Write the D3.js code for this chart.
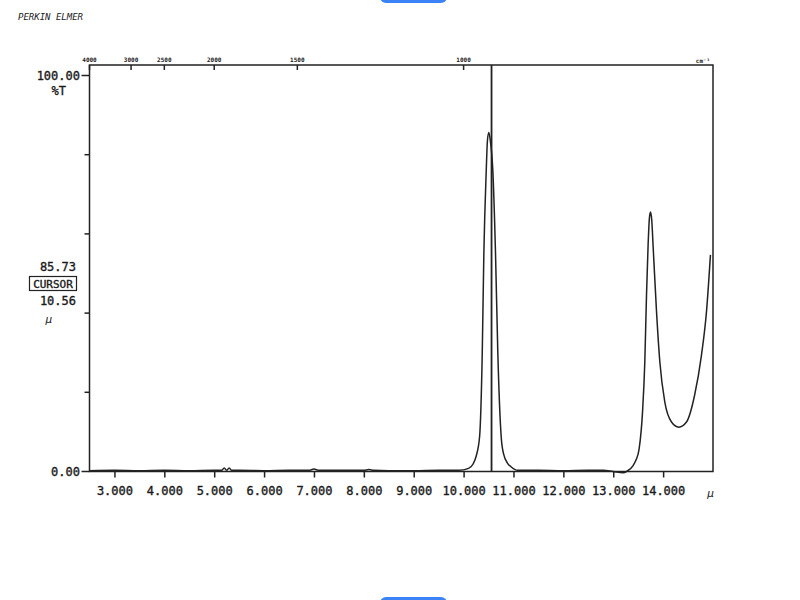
<!DOCTYPE html>
<html>
<head>
<meta charset="utf-8">
<script src="https://cdn.jsdelivr.net/npm/d3@7"></script>
<style>
  body { margin: 0; background: #fff; }
  svg { display: block; }
  text { font-family: "DejaVu Sans Mono", monospace; fill: #1a1a1a; }
  .lbl { stroke: #1a1a1a; stroke-width: 0.35px; }
</style>
</head>
<body>
<div id="chart"></div>
<script>
// wavelength (micron) and transmittance (%T)
const microns = [
  2.5, 3.0, 3.5, 4.0, 4.5, 5.0, 5.15, 5.2, 5.25, 5.3, 5.35, 5.5, 6.0, 6.5, 6.9, 7.0, 7.1,
  7.5, 8.0, 8.1, 8.2, 8.5, 9.0, 9.5, 9.9, 10.1, 10.19, 10.25, 10.32, 10.374, 10.406, 10.454,
  10.478, 10.506, 10.535, 10.586, 10.64, 10.686, 10.754, 10.8, 10.886, 10.95, 11.08, 11.5,
  12.0, 12.5, 12.8, 13.0, 13.2, 13.267, 13.399, 13.46, 13.519, 13.587, 13.633, 13.667,
  13.699, 13.725, 13.747, 13.772, 13.799, 13.868, 13.934, 14.034, 14.168, 14.314, 14.468,
  14.63, 14.769, 14.869, 14.949
];
const transmittance = [
  0.2, 0.3, 0.2, 0.3, 0.2, 0.3, 0.3, 0.9, 0.3, 0.9, 0.3, 0.3, 0.2, 0.3, 0.3, 0.6, 0.3,
  0.3, 0.3, 0.5, 0.3, 0.2, 0.2, 0.3, 0.3, 0.8, 1.9, 3.8, 8.7, 30, 55, 76,
  83.6, 85.6, 83.6, 76, 55, 30, 8.7, 4.5, 2, 1.2, 0.3, 0.3,
  0.2, 0.3, 0.3, 0.0, -0.3, 0.0, 1.5, 3.0, 5.7, 15, 27.7, 44.6,
  57.2, 64, 65.5, 63.5, 57, 40.3, 27.7, 17.5, 12.5, 11.2, 12.5,
  19.2, 29.4, 40.3, 54.7
];

const bottomTicks = [3, 4, 5, 6, 7, 8, 9, 10, 11, 12, 13, 14];
const topTicks = [4000, 3000, 2500, 2000, 1500, 1000];
const leftTicks = [0, 20, 40, 60, 80, 100];

const cursorMicron = 10.56;
const cursorValue = 85.73;

const width = 800;
const height = 600;

const svg = d3.select('#chart')
  .append('svg')
  .attr('width', width)
  .attr('height', height);

// screenshot artefacts (blue pills at top and bottom edge)
svg.append('rect').attr('x', 380).attr('y', -10).attr('width', 67).attr('height', 13)
  .attr('rx', 6).attr('fill', '#3b82f6');
svg.append('rect').attr('x', 380).attr('y', 597).attr('width', 67).attr('height', 13)
  .attr('rx', 6).attr('fill', '#3b82f6');

const xScale = d3.scaleLinear().domain([2.5, 15]).range([89.5, 713]);
const yScale = d3.scaleLinear().domain([0, 100]).range([471.5, 75.5]);

const frameTop = 65;

svg.append('text')
  .attr('x', 18).attr('y', 20)
  .style('font-size', '9px')
  .style('font-style', 'italic')
  .text('PERKIN ELMER');

// frame
svg.append('rect')
  .attr('x', xScale(2.5)).attr('y', frameTop)
  .attr('width', xScale(15) - xScale(2.5))
  .attr('height', yScale(0) - frameTop)
  .attr('fill', 'none')
  .attr('stroke', '#222')
  .attr('stroke-width', 1.5);

// bottom axis (microns)
const xAxis = d3.axisBottom(xScale)
  .tickValues(bottomTicks)
  .tickSize(6)
  .tickFormat(d3.format('.3f'));

const gx = svg.append('g')
  .attr('transform', `translate(0, ${yScale(0)})`)
  .call(xAxis);
gx.select('.domain').remove();
gx.selectAll('line').attr('stroke', '#222').attr('stroke-width', 1.5);
gx.selectAll('text')
  .attr('y', 15)
  .attr('class', 'lbl')
  .style('font-size', '12px')
  .style('font-family', '"DejaVu Sans Mono", monospace')
  .attr('fill', '#1a1a1a');

svg.append('text')
  .attr('x', xScale(14.95)).attr('y', 497)
  .attr('text-anchor', 'middle')
  .style('font-size', '11px')
  .style('font-style', 'italic')
  .text('µ');

// top axis (wavenumber, cm-1)
const topG = svg.append('g');
topG.selectAll('line')
  .data(topTicks)
  .join('line')
  .attr('x1', (d) => xScale(10000 / d))
  .attr('x2', (d) => xScale(10000 / d))
  .attr('y1', frameTop)
  .attr('y2', frameTop + 5)
  .attr('stroke', '#222')
  .attr('stroke-width', 1.5);
topG.selectAll('text')
  .data(topTicks)
  .join('text')
  .attr('x', (d) => xScale(10000 / d))
  .attr('y', frameTop - 3)
  .attr('text-anchor', 'middle')
  .style('font-size', '6px')
  .style('font-weight', 'bold')
  .text((d) => d);
svg.append('text')
  .attr('x', 703).attr('y', frameTop - 2)
  .attr('text-anchor', 'middle')
  .style('font-size', '6px')
  .style('font-weight', 'bold')
  .text('cm⁻¹');

// left axis ticks
svg.append('g')
  .selectAll('line')
  .data(leftTicks)
  .join('line')
  .attr('x1', (d) => xScale(2.5) - (d === 100 || d === 0 ? 8 : 5))
  .attr('x2', xScale(2.5))
  .attr('y1', (d) => yScale(d))
  .attr('y2', (d) => yScale(d))
  .attr('stroke', '#222')
  .attr('stroke-width', 1.5);

const leftLabels = svg.append('g')
  .attr('text-anchor', 'end')
  .style('font-size', '12px');

leftLabels.append('text').attr('class', 'lbl').attr('x', 80).attr('y', yScale(100) + 4).text('100.00');
leftLabels.append('text').attr('class', 'lbl').attr('x', 66).attr('y', yScale(100) + 19).text('%T');
leftLabels.append('text').attr('class', 'lbl').attr('x', 80).attr('y', yScale(0) + 4).text('0.00');
leftLabels.append('text').attr('class', 'lbl').attr('x', 76).attr('y', 271).text(cursorValue.toFixed(2));
leftLabels.append('text').attr('class', 'lbl').attr('x', 76).attr('y', 305).text(cursorMicron.toFixed(2));
leftLabels.append('text').attr('x', 52).attr('y', 323)
  .style('font-style', 'italic').style('font-size', '11px').text('µ');

svg.append('rect')
  .attr('x', 29.5).attr('y', 276.5).attr('width', 47).attr('height', 14)
  .attr('fill', 'none').attr('stroke', '#222').attr('stroke-width', 1.2);
svg.append('text')
  .attr('class', 'lbl')
  .attr('x', 53).attr('y', 288)
  .attr('text-anchor', 'middle')
  .style('font-size', '11px')
  .text('CURSOR');

// cursor line
svg.append('line')
  .attr('x1', xScale(cursorMicron)).attr('x2', xScale(cursorMicron))
  .attr('y1', frameTop).attr('y2', yScale(0))
  .attr('stroke', '#222')
  .attr('stroke-width', 1.8);

// spectrum trace
const points = microns.map((m, i) => [m, transmittance[i]]);
const line = d3.line()
  .x((d) => xScale(d[0]))
  .y((d) => yScale(d[1]))
  .curve(d3.curveMonotoneX);

svg.append('path')
  .datum(points)
  .attr('d', line)
  .attr('fill', 'none')
  .attr('stroke', '#222')
  .attr('stroke-width', 1.5);
</script>
</body>
</html>
